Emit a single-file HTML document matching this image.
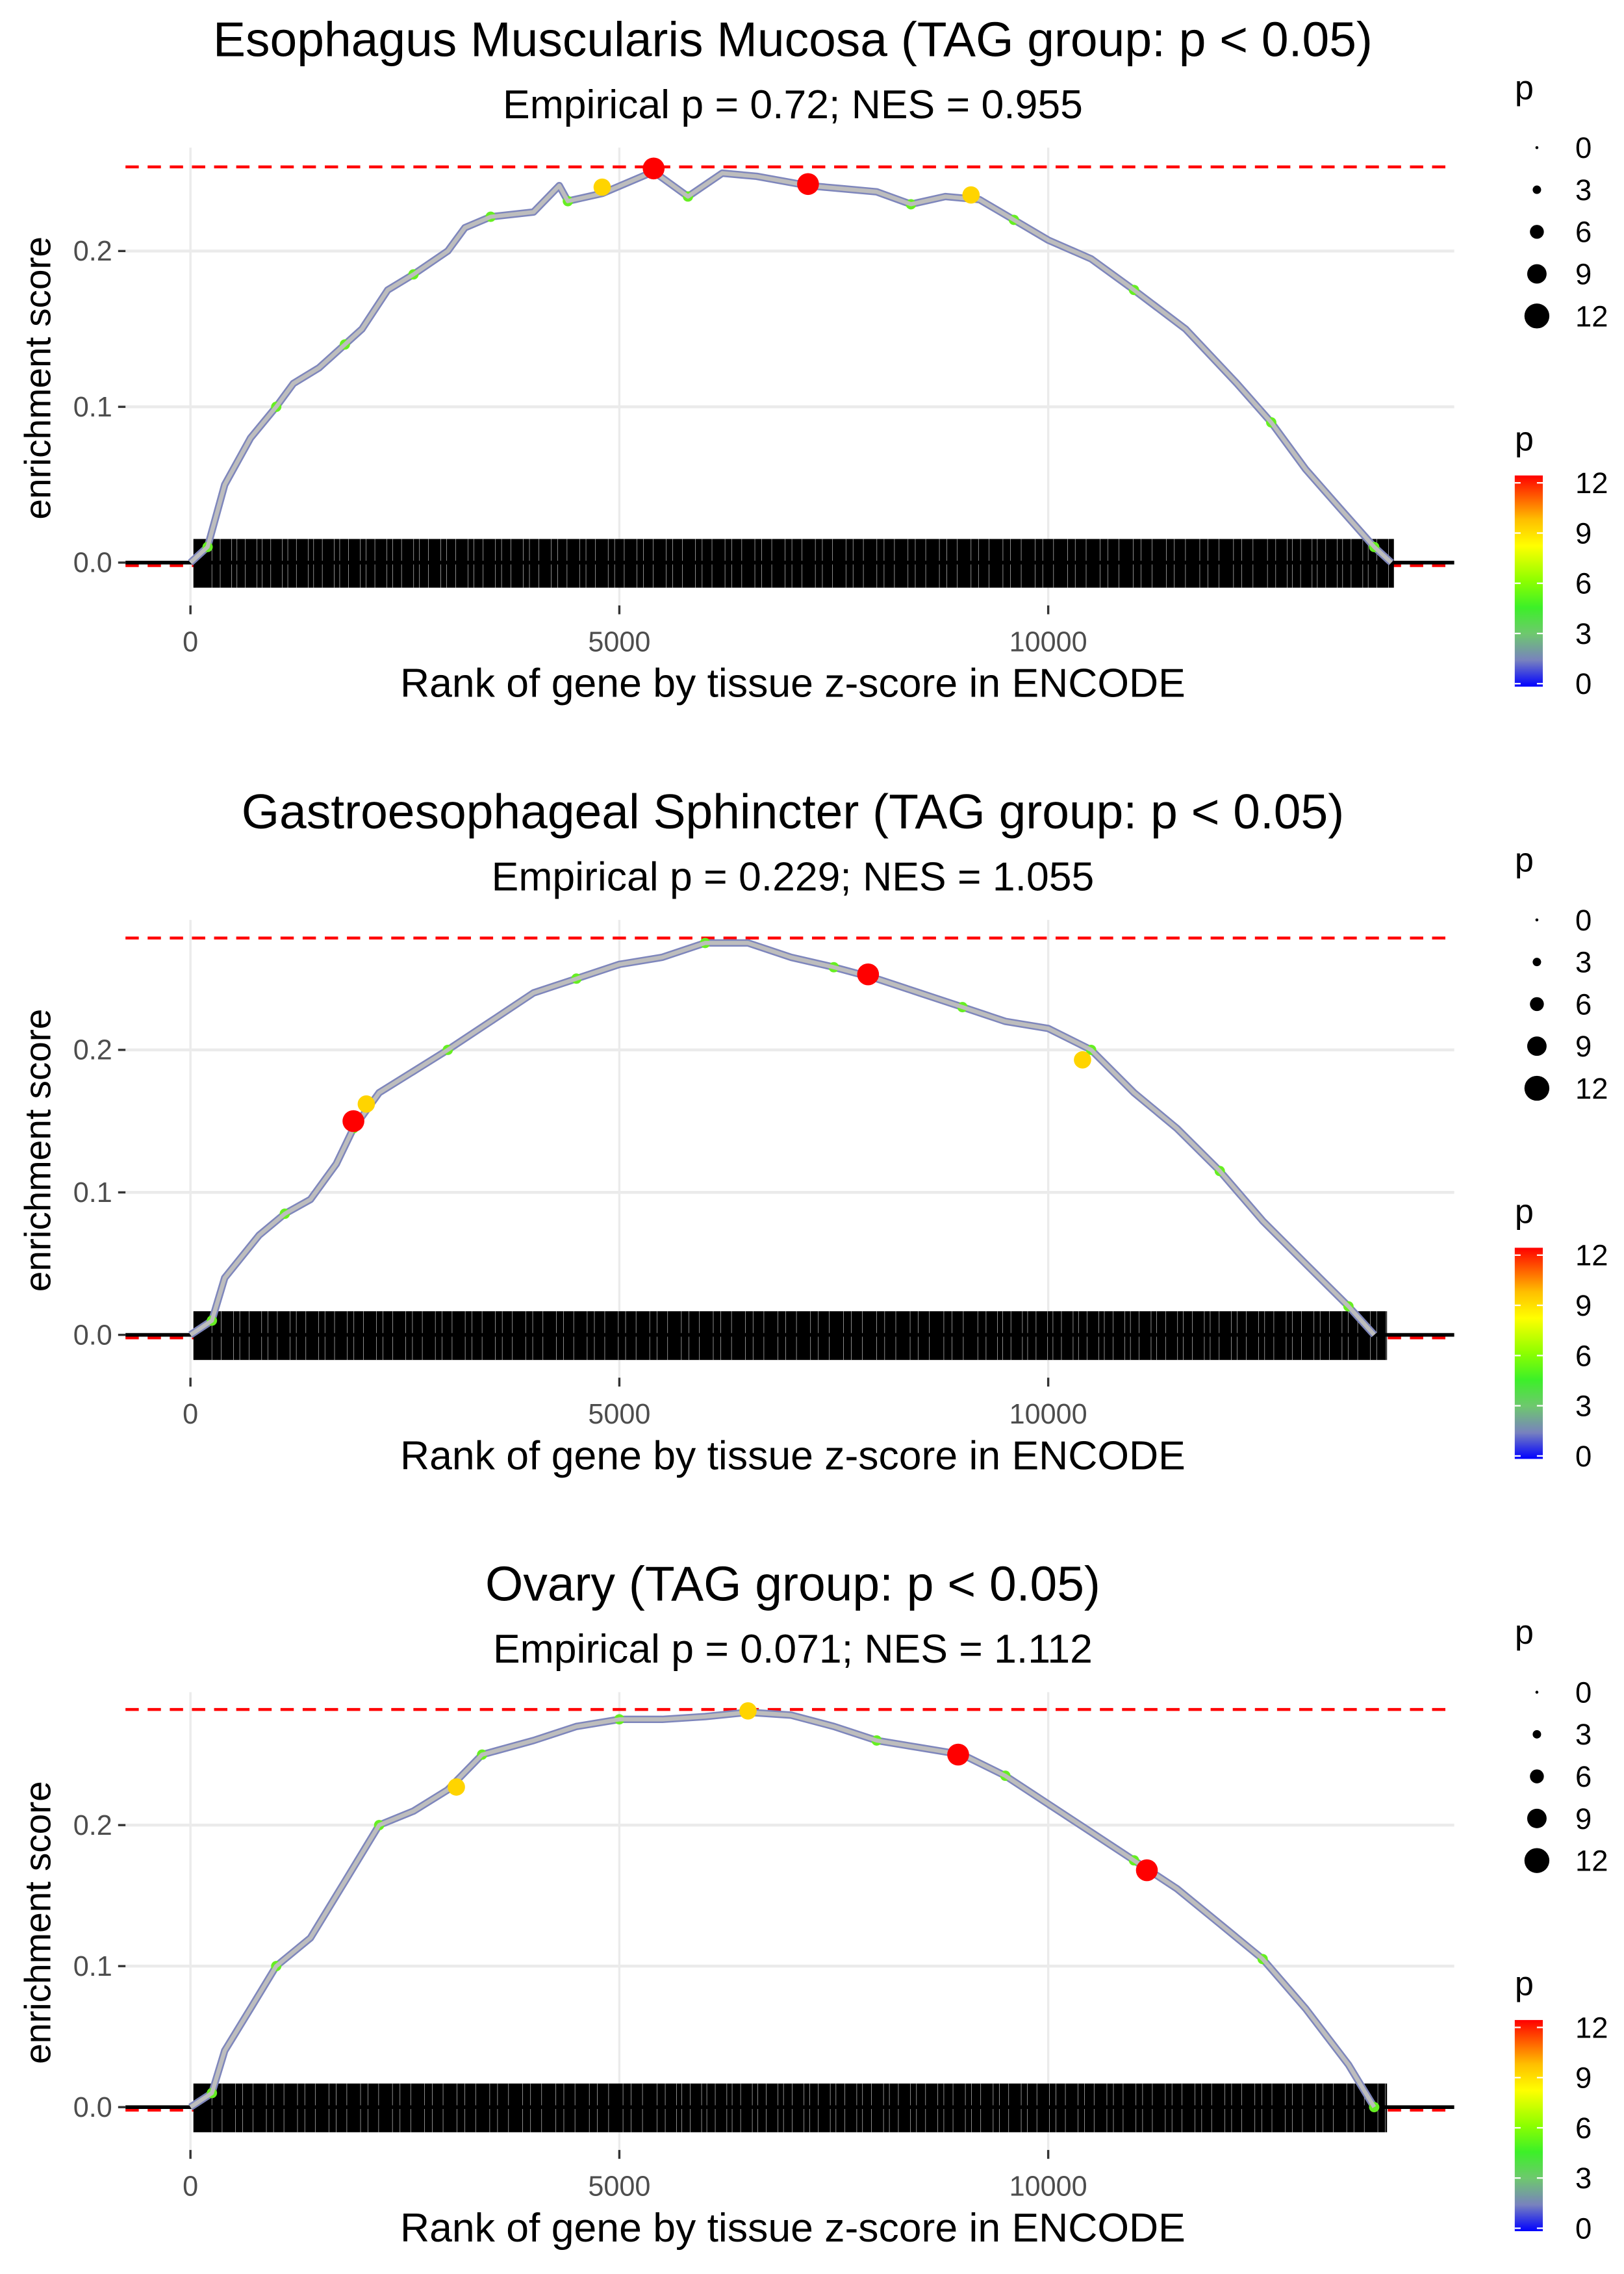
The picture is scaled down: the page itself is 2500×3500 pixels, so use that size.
<!DOCTYPE html>
<html><head><meta charset="utf-8"><title>Enrichment plots</title>
<style>html,body{margin:0;padding:0;background:#fff;}svg{display:block;font-family:"Liberation Sans",sans-serif;}</style>
</head><body>
<svg id="chart" width="2500" height="3500" viewBox="0 0 1100 1540" xmlns="http://www.w3.org/2000/svg"></svg>
<script>
// ---- data ----
const panelTitles = ["Esophagus Muscularis Mucosa (TAG group: p < 0.05)", "Gastroesophageal Sphincter (TAG group: p < 0.05)", "Ovary (TAG group: p < 0.05)"];
const panelSubtitles = ["Empirical p = 0.72; NES = 0.955", "Empirical p = 0.229; NES = 1.055", "Empirical p = 0.071; NES = 1.112"];
const maxES = [0.254, 0.2785, 0.282];
const xTicks = [0, 5000, 10000];
const xTickLabels = ["0", "5000", "10000"];
const yTicks = [0, 0.1, 0.2];
const yTickLabels = ["0.0", "0.1", "0.2"];
const rugEnd = [14030, 13950, 13950];

const ranks1 = [0,200,400,700,1000,1200,1500,1800,2000,2300,2600,3000,3200,3500,4000,4300,4400,4800,5400,5800,6200,6600,7200,7600,8000,8400,8800,9200,9600,10000,10500,11000,11600,12200,12600,13000,13400,13800,14000];
const es1 = [0,0.01,0.05,0.08,0.10,0.115,0.125,0.14,0.15,0.175,0.185,0.20,0.215,0.222,0.225,0.242,0.232,0.237,0.251,0.235,0.25,0.248,0.242,0.24,0.238,0.23,0.235,0.233,0.22,0.207,0.195,0.175,0.15,0.115,0.09,0.06,0.035,0.01,0];
const ranks2 = [0,250,400,800,1100,1400,1700,1900,2200,2600,3000,3500,4000,4500,5000,5500,6000,6500,7000,7500,8000,8500,9000,9500,10000,10500,11000,11500,12000,12500,13000,13500,13800];
const es2 = [0,0.01,0.04,0.07,0.085,0.095,0.12,0.145,0.17,0.185,0.2,0.22,0.24,0.25,0.26,0.265,0.275,0.275,0.265,0.258,0.25,0.24,0.23,0.22,0.215,0.2,0.17,0.145,0.115,0.08,0.05,0.02,0];
const ranks3 = [0,250,400,700,1000,1400,1800,2200,2600,3000,3400,4000,4500,5000,5500,6000,6500,7000,7500,8000,8500,9000,9500,10000,10500,11000,11500,12000,12500,13000,13500,13800];
const es3 = [0,0.01,0.04,0.07,0.10,0.12,0.16,0.2,0.21,0.225,0.25,0.26,0.27,0.275,0.275,0.277,0.28,0.278,0.27,0.26,0.255,0.25,0.235,0.215,0.195,0.175,0.155,0.13,0.105,0.07,0.03,0];

const hiRanks1 = [4800,5400,7200,9100];
const hiES1 = [0.241,0.253,0.243,0.236];
const hiP1 = [9,12,12,9];
const hiRanks2 = [1900,2050,7900,10400];
const hiES2 = [0.15,0.162,0.253,0.193];
const hiP2 = [12,9,12,9];
const hiRanks3 = [3100,6500,8950,11150];
const hiES3 = [0.227,0.281,0.25,0.168];
const hiP3 = [9,9,12,12];

const sizeLegendValues = [0,3,6,9,12];
const colorLegendValues = [12,9,6,3,0];

// ---- layout ----
const NS = "http://www.w3.org/2000/svg";
const svg = document.getElementById("chart");
const panelOffset = [0, 523, 1046];
const yPerUnit = [1055, 965, 955];
const xLeft = 85, xRight = 985, y0Base = 381;
function xScale(r){ return 129 + r/5000*290.5; }
function mk(tag, attrs, parent){ const e=document.createElementNS(NS,tag); for(const k in attrs) e.setAttribute(k,attrs[k]); (parent||svg).appendChild(e); return e; }
function pColor(p){
  const stops=[[0,[0,0,255]],[1.5,[120,130,190]],[3,[110,200,110]],[4.5,[60,240,40]],[6,[140,255,0]],[8,[255,255,0]],[9.5,[255,190,0]],[12,[255,0,0]]];
  for(let i=0;i<stops.length-1;i++){ if(p<=stops[i+1][0]){ const t=(p-stops[i][0])/(stops[i+1][0]-stops[i][0]); const a=stops[i][1],b=stops[i+1][1]; return `rgb(${a.map((v,j)=>Math.round(v+(b[j]-v)*t)).join(",")})`; } }
  return "rgb(255,0,0)";
}
function pSize(p){ return 1.5 + p*0.6; }

const allRanks=[ranks1,ranks2,ranks3], allES=[es1,es2,es3];
const allHR=[hiRanks1,hiRanks2,hiRanks3], allHE=[hiES1,hiES2,hiES3], allHP=[hiP1,hiP2,hiP3];

for(let k=0;k<3;k++){
  const off=panelOffset[k];
  const y0=y0Base+off;
  const yS = v => y0 - v*yPerUnit[k];
  const g=mk("g",{});
  
  
  let t=mk("text",{x:537,y:38+off,"font-size":33,"text-anchor":"middle",fill:"#000"},g); t.textContent=panelTitles[k];
  
  
  t=mk("text",{x:537,y:80+off,"font-size":27.5,"text-anchor":"middle",fill:"#000"},g); t.textContent=panelSubtitles[k];
  
  
  // grid
  yTicks.forEach((v,i)=>{
    const l=mk("line",{x1:xLeft,x2:xRight,y1:yS(v),y2:yS(v),stroke:"#ebebeb","stroke-width":2},g);
    
    
    const tk=mk("line",{x1:80,x2:85,y1:yS(v),y2:yS(v),stroke:"#333","stroke-width":1.5},g);
    
    
    const tl=mk("text",{x:76,y:yS(v)+6.5,"font-size":19,"text-anchor":"end",fill:"#4d4d4d"},g); tl.textContent=yTickLabels[i];
    
    
  });
  xTicks.forEach((v,i)=>{
    const l=mk("line",{x1:xScale(v),x2:xScale(v),y1:100+off,y2:410+off,stroke:"#ebebeb","stroke-width":1.5},g);
    
    
    const tk=mk("line",{x1:xScale(v),x2:xScale(v),y1:410+off,y2:416+off,stroke:"#333","stroke-width":1.5},g);
    
    
    const tl=mk("text",{x:xScale(v),y:441+off,"font-size":19,"text-anchor":"middle",fill:"#4d4d4d"},g); tl.textContent=xTickLabels[i];
    
    
  });
  // red dashed lines
  let d=mk("line",{x1:xLeft,x2:xRight,y1:yS(maxES[k]),y2:yS(maxES[k]),stroke:"#ff0000","stroke-width":2,"stroke-dasharray":"9,6"},g);
  
  
  d=mk("line",{x1:xLeft,x2:xRight,y1:y0+2,y2:y0+2,stroke:"#ff0000","stroke-width":2,"stroke-dasharray":"9,6"},g);
  
  
  // rug
  const rug=mk("rect",{x:xScale(0)+2,y:y0-16,width:xScale(rugEnd[k])-xScale(0)-2,height:33,fill:"#000"},g);
  
  
  for(let r=250,s=0;r<rugEnd[k];s++,r+=60+((s*37+k*11)%110)){
    const gp=mk("line",{x1:xScale(r),x2:xScale(r),y1:y0-16,y2:y0+17,stroke:"#fff","stroke-width":0.3,opacity:0.8},g);
    
    
  }
  const zl=mk("line",{x1:xLeft,x2:xRight,y1:y0,y2:y0,stroke:"#000","stroke-width":2.5},g);
  
  
  // curve
  const pts=allRanks[k].map((r,i)=>xScale(r).toFixed(1)+","+yS(allES[k][i]).toFixed(1)).join(" ");
  let c=mk("polyline",{points:pts,fill:"none",stroke:"#7e86bc","stroke-width":5,"stroke-linejoin":"round"},g);
  
  
  allRanks[k].forEach((r,i)=>{ if(i%3===1){
    const dt=mk("circle",{cx:xScale(r),cy:yS(allES[k][i]),r:3.5,fill:"#66ee22"},g);
    
    
  }});
  c=mk("polyline",{points:pts,fill:"none",stroke:"#bdbdbd","stroke-width":2.8,"stroke-linejoin":"round"},g);
  
  
  allHR[k].forEach((r,i)=>{
    const p=allHP[k][i];
    const dt=mk("circle",{cx:xScale(r),cy:yS(allHE[k][i]),r:pSize(p)*0.85,fill:pColor(p)},g);
    
    
  });
  // axis titles
  t=mk("text",{x:0,y:0,"font-size":25,"text-anchor":"middle",fill:"#000",transform:`translate(34,${256+off}) rotate(-90)`},g); t.textContent="enrichment score";
  
  
  t=mk("text",{x:537,y:472+off,"font-size":27.5,"text-anchor":"middle",fill:"#000"},g); t.textContent="Rank of gene by tissue z-score in ENCODE";
  
  
  // size legend
  t=mk("text",{x:1026,y:67+off,"font-size":23,fill:"#000"},g); t.textContent="p";
  
  
  sizeLegendValues.forEach((v,i)=>{
    const yy=100+off+i*28.5;
    const cc=mk("circle",{cx:1041,cy:yy,r:1+v*0.62,fill:"#000"},g);
    
    
    const tl=mk("text",{x:1067,y:yy+7,"font-size":20,fill:"#000"},g); tl.textContent=v;
    
    
  });
  // colour legend
  t=mk("text",{x:1026,y:305+off,"font-size":23,fill:"#000"},g); t.textContent="p";
  
  
  const gid="grad"+k;
  const defs=mk("defs",{},g);
  const lg=mk("linearGradient",{id:gid,x1:0,y1:1,x2:0,y2:0},defs);
  [0,1.5,3,4.5,6,8,9.5,12].forEach(v=>mk("stop",{offset:v/12,"stop-color":pColor(v)},lg));
  const bar=mk("rect",{x:1026,y:322+off,width:19,height:143,fill:`url(#${gid})`},g);
  
  
  colorLegendValues.forEach((v,i)=>{
    const yy=327+off+i*34;
    mk("line",{x1:1026,x2:1030,y1:yy,y2:yy,stroke:"#fff","stroke-width":1},g);
    mk("line",{x1:1041,x2:1045,y1:yy,y2:yy,stroke:"#fff","stroke-width":1},g);
    const tl=mk("text",{x:1067,y:yy+7,"font-size":20,fill:"#000"},g); tl.textContent=v;
    
    
  });
}
</script>
</body></html>
